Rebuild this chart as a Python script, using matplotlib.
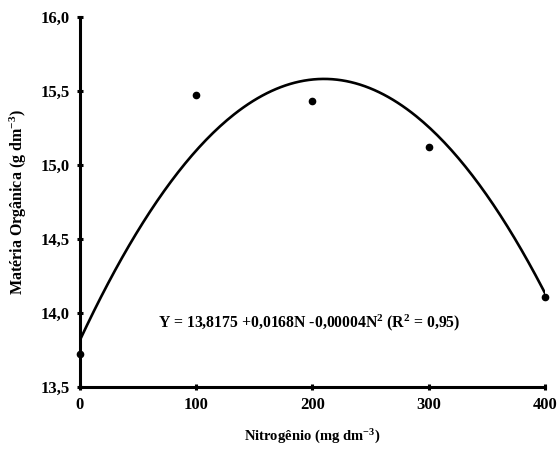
import numpy as np
import matplotlib
matplotlib.use("Agg")
import matplotlib.pyplot as plt

plt.rcParams['font.family'] = ['Liberation Serif', 'DejaVu Serif']
plt.rcParams['font.weight'] = 'bold'
plt.rcParams['axes.labelweight'] = 'bold'
plt.rcParams['mathtext.fontset'] = 'custom'
plt.rcParams['mathtext.rm'] = 'Liberation Serif:bold'
plt.rcParams['mathtext.bf'] = 'Liberation Serif:bold'
plt.rcParams['mathtext.it'] = 'Liberation Serif:bold'

# observed values
nitrogen = [0, 100, 200, 300, 400]
materia = [13.72, 15.47, 15.43, 15.12, 14.11]

# fitted quadratic coefficients (from the equation in the chart)
b0, b1, b2 = 13.8175, 0.0168, -0.00004

xticks = [0, 100, 200, 300, 400]
yticks = [13.5, 14.0, 14.5, 15.0, 15.5, 16.0]

fig = plt.figure(figsize=(5.57, 4.53), dpi=100)
ax = fig.add_axes([0.1436, 0.1457, 0.978 - 0.1436, 0.9625 - 0.1457])

n = np.linspace(0, 400, 200)
ax.plot(n, b0 + b1 * n + b2 * n ** 2, color="black", linewidth=1.9)
ax.plot(nitrogen, materia, linestyle="none", marker="o", color="black",
        markersize=4.5, clip_on=False, zorder=5)

ax.set_xlim(0, 400)
ax.set_ylim(13.5, 16.0)
ax.set_xticks(xticks)
ax.set_yticks(yticks)
ax.set_xticklabels([str(v) for v in xticks], fontweight="bold", fontsize=12)
ax.set_yticklabels(["{:.1f}".format(v).replace(".", ",") for v in yticks],
                   fontweight="bold", fontsize=12)

for s in ["top", "right"]:
    ax.spines[s].set_visible(False)
for s in ["left", "bottom"]:
    ax.spines[s].set_linewidth(2.2)
ax.tick_params(direction="inout", length=5, width=2.2, pad=5)

ax.set_xlabel(r"Nitrogênio (mg dm$^{-3}$)", fontsize=10.5, labelpad=10)
ax.set_ylabel(r"Matéria Orgânica (g dm$^{-3}$)", fontsize=11.5, labelpad=8)

ax.text(197, 13.935,
        r"Y = 13,8175 +0,0168N -0,00004N$^{2}$ (R$^{2}$ = 0,95)",
        ha="center", va="center", fontsize=11.3, fontweight="bold")

fig.savefig("out.png", dpi=100)
